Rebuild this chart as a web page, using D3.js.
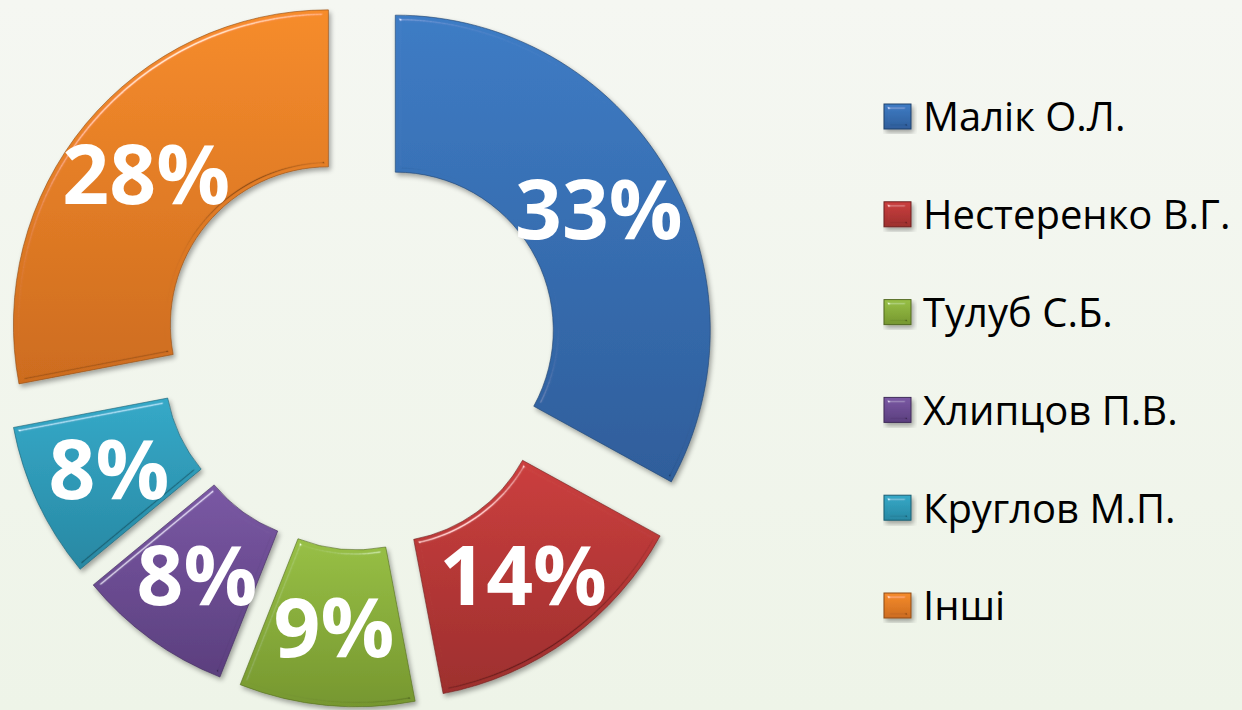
<!DOCTYPE html>
<html>
<head>
<meta charset="utf-8">
<script src="https://cdn.jsdelivr.net/npm/d3@7/dist/d3.min.js"></script>
<style>
  html, body { margin: 0; padding: 0; }
  body { width: 1242px; height: 710px; overflow: hidden; }
  svg { display: block; }
</style>
</head>
<body>
<div id="root"></div>
<script>
// ——— données
const names = ["Малік О.Л.", "Нестеренко В.Г.", "Тулуб С.Б.", "Хлипцов П.В.", "Круглов М.П.", "Інші"];
const shares = [33, 14, 9, 8, 8, 28];
const colorsTop = ["#3e7cc5", "#cb3f3e", "#98c046", "#7a58a4", "#35a9c8", "#f68c2c"];
const colorsBot = ["#2f5e9b", "#9d2f2e", "#76972f", "#5b3f7e", "#2888a3", "#cd6c1f"];

const W = 1242, H = 710;
const cx = 360, cy = 351;
const outerR = 315, innerR = 158, explode = 41;

const svg = d3.select("#root").append("svg")
  .attr("width", W).attr("height", H);

const defs = svg.append("defs");

// fond
const bg = defs.append("linearGradient").attr("id", "bg")
  .attr("x1", 0).attr("y1", 0).attr("x2", 0).attr("y2", 1);
bg.append("stop").attr("offset", 0).attr("stop-color", "#f5f7f2");
bg.append("stop").attr("offset", 1).attr("stop-color", "#eef4e8");
svg.append("rect").attr("width", W).attr("height", H).attr("fill", "url(#bg)");

// dégradés par tranche
colorsTop.forEach((c, i) => {
  const g = defs.append("linearGradient").attr("id", "g" + i)
    .attr("x1", 0).attr("y1", 0).attr("x2", 0).attr("y2", 1);
  g.append("stop").attr("offset", 0).attr("stop-color", c);
  g.append("stop").attr("offset", 1).attr("stop-color", colorsBot[i]);
});

// biseau + ombre
const f = defs.append("filter").attr("id", "bevel")
  .attr("x", "-10%").attr("y", "-10%").attr("width", "130%").attr("height", "130%");
f.append("feGaussianBlur").attr("in", "SourceAlpha").attr("stdDeviation", 2.5).attr("result", "blur");
const hi = f.append("feSpecularLighting").attr("in", "blur").attr("surfaceScale", 8)
  .attr("specularConstant", 1).attr("specularExponent", 40)
  .attr("lighting-color", "#ffffff").attr("result", "specHi");
hi.append("feDistantLight").attr("azimuth", 240).attr("elevation", 25);
f.append("feComposite").attr("in", "specHi").attr("in2", "SourceAlpha").attr("operator", "in").attr("result", "hiIn");
const lo = f.append("feSpecularLighting").attr("in", "blur").attr("surfaceScale", 8)
  .attr("specularConstant", 1).attr("specularExponent", 40)
  .attr("lighting-color", "#ffffff").attr("result", "specLo");
lo.append("feDistantLight").attr("azimuth", 60).attr("elevation", 25);
f.append("feFlood").attr("flood-color", "#000").attr("flood-opacity", 0.6).attr("result", "black");
f.append("feComposite").attr("in", "black").attr("in2", "specLo").attr("operator", "in").attr("result", "loA");
f.append("feComposite").attr("in", "loA").attr("in2", "SourceAlpha").attr("operator", "in").attr("result", "loIn");
f.append("feComposite").attr("in", "SourceGraphic").attr("in2", "hiIn")
  .attr("operator", "arithmetic").attr("k1", 0).attr("k2", 1).attr("k3", 0.6).attr("k4", 0).attr("result", "lit");
f.append("feComposite").attr("in", "loIn").attr("in2", "lit").attr("operator", "over").attr("result", "shaded");
// ombre portée
f.append("feGaussianBlur").attr("in", "SourceAlpha").attr("stdDeviation", 2.5).attr("result", "sb");
f.append("feOffset").attr("in", "sb").attr("dx", 2).attr("dy", 3).attr("result", "so");
f.append("feComponentTransfer").attr("in", "so").attr("result", "shadow")
  .append("feFuncA").attr("type", "linear").attr("slope", 0.35);
const m = f.append("feMerge");
m.append("feMergeNode").attr("in", "shadow");
m.append("feMergeNode").attr("in", "shaded");

// ——— anneau
const pie = d3.pie().sort(null).value(d => d)(shares);
const arc = d3.arc().innerRadius(innerR).outerRadius(outerR);

const g = svg.append("g").attr("transform", `translate(${cx},${cy})`);

const slices = g.selectAll(".slice")
  .data(pie)
  .enter()
  .append("g")
  .attr("class", "slice")
  .attr("transform", d => {
    const a = (d.startAngle + d.endAngle) / 2;
    return `translate(${Math.sin(a) * explode},${-Math.cos(a) * explode})`;
  });

slices.append("path")
  .attr("d", arc)
  .attr("fill", (d, i) => `url(#g${i})`)
  .attr("stroke", (d, i) => d3.color(colorsBot[i]).darker(1))
  .attr("stroke-opacity", 0.6)
  .attr("stroke-width", 1)
  .attr("filter", "url(#bevel)");

slices.append("text")
  .attr("transform", d => `translate(${arc.centroid(d)})`)
  .attr("text-anchor", "middle")
  .attr("dy", "0.36em")
  .attr("fill", "#fff")
  .style("font-family", "'Open Sans', sans-serif")
  .style("font-weight", 700)
  .style("font-size", "82px")
  .text(d => d.data + "%");

// ——— légende
const leg = svg.append("g").selectAll("g")
  .data(names)
  .enter()
  .append("g")
  .attr("transform", (d, i) => `translate(884,${117 + i * 97.8})`);

leg.append("rect")
  .attr("x", 0).attr("y", -13).attr("width", 27).attr("height", 25)
  .attr("fill", (d, i) => `url(#g${i})`)
  .attr("stroke", (d, i) => d3.color(colorsBot[i]).darker(1)).attr("stroke-width", 1)
  .attr("filter", "url(#bevel)");

leg.append("text")
  .attr("x", 39).attr("dy", "0.36em")
  .attr("fill", "#000")
  .style("font-family", "'Open Sans', sans-serif")
  .style("font-size", "40px")
  .text(d => d);
</script>
</body>
</html>
